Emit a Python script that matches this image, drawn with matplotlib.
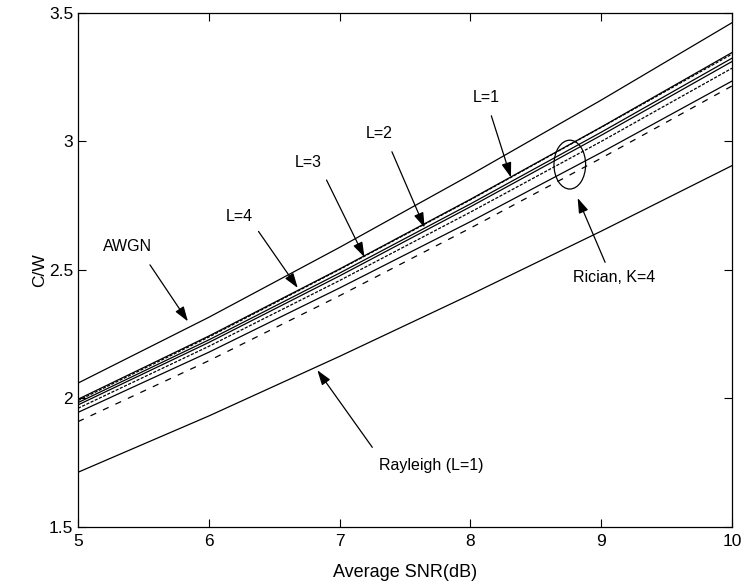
import matplotlib
matplotlib.use("Agg")
import matplotlib.pyplot as plt
from matplotlib.patches import Ellipse

plt.rcParams['font.family'] = ['Liberation Sans', 'DejaVu Sans']

# data
snr_db = [5, 6, 7, 8, 9, 10]
awgn = [2.060, 2.316, 2.588, 2.870, 3.161, 3.462]
rayleigh = [1.713, 1.932, 2.164, 2.404, 2.651, 2.906]
rician_l4 = [1.997, 2.243, 2.504, 2.775, 3.056, 3.346]
rician_l4b = [1.992, 2.239, 2.502, 2.773, 3.055, 3.340]
rician_l3 = [1.984, 2.228, 2.488, 2.757, 3.036, 3.324]
rician_l2 = [1.975, 2.218, 2.477, 2.746, 3.024, 3.311]
rician_l2b = [1.962, 2.203, 2.459, 2.725, 3.000, 3.285]
rician_l1 = [1.946, 2.180, 2.430, 2.688, 2.957, 3.235]
rician_l1b = [1.910, 2.147, 2.400, 2.663, 2.935, 3.216]

fig = plt.figure(figsize=(7.46, 5.87), dpi=100)
ax = fig.add_axes([0.1046, 0.1022, 0.8766, 0.8757])

lw = 0.9
ax.plot(snr_db, awgn, 'k-', lw=lw)
ax.plot(snr_db, rayleigh, 'k-', lw=lw)
ax.plot(snr_db, rician_l4, 'k-', lw=lw)
ax.plot(snr_db, rician_l4b, 'k', lw=lw, dashes=(2.5, 1.2))
ax.plot(snr_db, rician_l3, 'k-', lw=lw)
ax.plot(snr_db, rician_l2, 'k-', lw=lw)
ax.plot(snr_db, rician_l2b, 'k', lw=lw, dashes=(2.5, 1.2))
ax.plot(snr_db, rician_l1, 'k-', lw=lw)
ax.plot(snr_db, rician_l1b, 'k', lw=lw, dashes=(5, 6))

ax.set_xlim(5, 10)
ax.set_ylim(1.5, 3.5)
ax.set_xticks([5, 6, 7, 8, 9, 10])
ax.set_yticks([1.5, 2, 2.5, 3, 3.5])
ax.set_yticklabels(['1.5', '2', '2.5', '3', '3.5'])
ax.tick_params(direction='in', top=True, right=True, labelsize=12.5, length=6)
ax.tick_params(axis='x', pad=5)
for s in ax.spines.values():
    s.set_linewidth(0.9)
ax.set_xlabel('Average SNR(dB)', fontsize=13, labelpad=11)
ax.set_ylabel('C/W', fontsize=12.5, labelpad=1)

arrow = dict(arrowstyle='-|>,head_length=0.9,head_width=0.3', color='k', lw=0.9,
             shrinkA=0, shrinkB=0)
notes = [
    ('AWGN', (5.38, 2.59), (5.55, 2.52), (5.84, 2.30)),
    ('L=4', (6.23, 2.71), (6.38, 2.65), (6.68, 2.43)),
    ('L=3', (6.76, 2.92), (6.90, 2.85), (7.19, 2.55)),
    ('L=2', (7.30, 3.03), (7.40, 2.96), (7.65, 2.665)),
    ('L=1', (8.12, 3.17), (8.16, 3.10), (8.31, 2.86)),
    ('Rician, K=4', (9.10, 2.47), (9.03, 2.53), (8.82, 2.78)),
    ('Rayleigh (L=1)', (7.70, 1.74), (7.25, 1.81), (6.83, 2.11)),
]
for txt, tpos, tail, tip in notes:
    ax.text(tpos[0], tpos[1], txt, fontsize=11.5, ha='center', va='center')
    ax.annotate('', xy=tip, xytext=tail, arrowprops=arrow)

ax.add_patch(Ellipse((8.76, 2.91), 0.242, 0.19, fill=False, ec='k', lw=0.9))

fig.savefig('out.png', dpi=100)
